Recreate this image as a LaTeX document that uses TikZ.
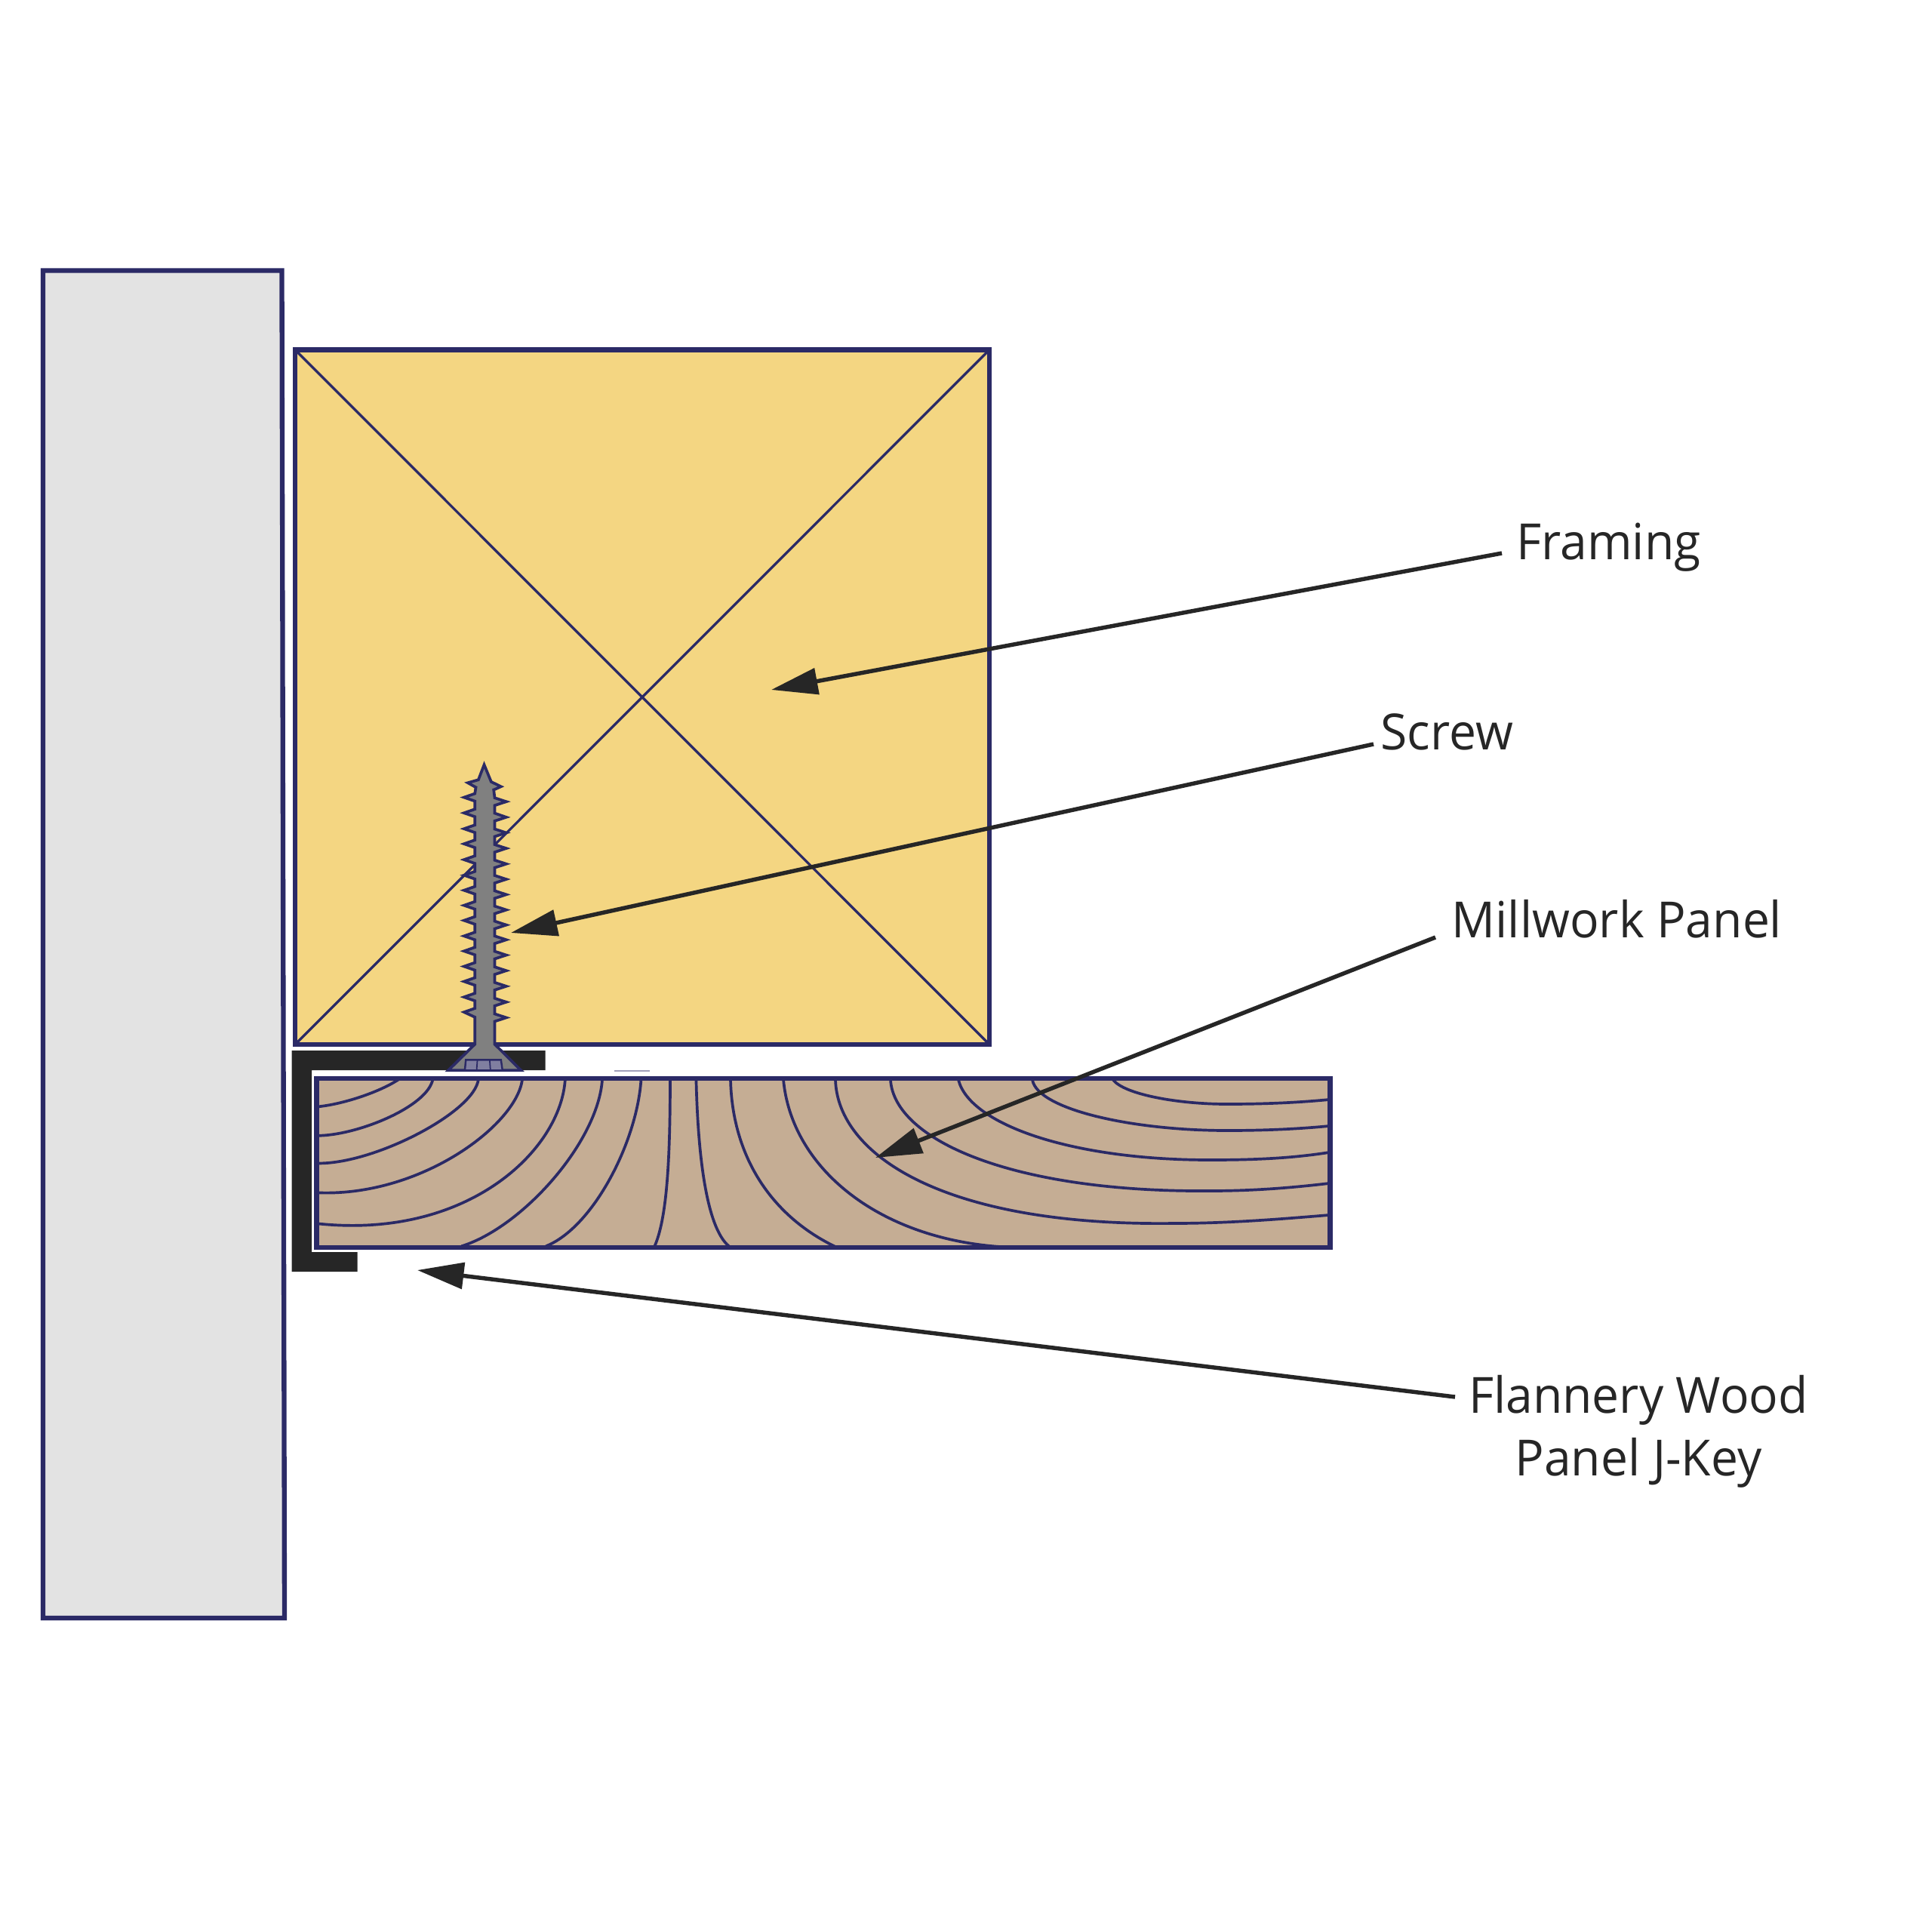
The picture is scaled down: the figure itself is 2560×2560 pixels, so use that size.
\documentclass[tikz,border=0pt]{standalone}
\usepackage{fontspec}
\setmainfont[FakeStretch=0.97]{Open Sans}
\usetikzlibrary{arrows.meta}
\definecolor{navy}{HTML}{2B2A66}
\definecolor{ink}{HTML}{262626}
\definecolor{wallgray}{HTML}{E3E3E3}
\definecolor{framingfill}{HTML}{F4D682}
\definecolor{panelfill}{HTML}{C5AD94}
\definecolor{screwfill}{HTML}{808080}
\definecolor{headfill}{HTML}{807FA0}
\tikzset{
  outline/.style={draw=navy,line width=1.8pt,line join=miter},
  grain/.style={draw=navy,line width=1.05pt},
  leader/.style={draw=ink,line width=1.55pt,-{Triangle[length=17.5pt,width=9.8pt]}},
  callout/.style={font=\fontsize{18.8}{23.6}\selectfont,text=ink,align=center,inner sep=0pt},
}
\begin{document}
\begin{tikzpicture}[x=0.01cm,y=-0.01cm]
\useasboundingbox (0,0) rectangle (2560,2560);
\fill[white] (0,0) rectangle (2560,2560);
% wall
\draw[outline,fill=wallgray] (57,358.5) -- (373.5,358.5) -- (377,2144) -- (57,2144) -- cycle;
% framing
\draw[outline,fill=framingfill] (391,463.5) rectangle (1311,1384);
\draw[draw=navy,line width=0.95pt] (391,463.5) -- (1311,1384);
\draw[draw=navy,line width=0.95pt] (1311,463.5) -- (391,1384);
% J-key
\fill[ink] (386.5,1392) -- (722.7,1392) -- (722.7,1418) -- (413,1418) -- (413,1659) -- (473.5,1659) -- (473.5,1685) -- (386.5,1685) -- cycle;
\draw[draw=navy!45,line width=0.4pt] (814,1419) -- (861,1419);
% panel
\draw[outline,fill=panelfill] (419.5,1429) rectangle (1762.5,1653);
\begin{scope}[shift={(370,1380)},x=0.004464cm,y=-0.003333cm]
\draw[grain] (355,150) .. controls (300,200) and (190,250) .. (112,260);
\draw[grain] (455,150) .. controls (440,260) and (230,375) .. (112,375);
\draw[grain] (590,150) .. controls (580,280) and (280,490) .. (112,485);
\draw[grain] (720,150) .. controls (705,330) and (420,620) .. (112,602);
\draw[grain] (847,150) .. controls (835,430) and (560,790) .. (112,725);
\draw[grain] (957,150) .. controls (945,400) and (720,740) .. (540,815);
\draw[grain] (1072,150) .. controls (1060,400) and (930,740) .. (790,815);
\draw[grain] (1158,150) .. controls (1158,450) and (1150,700) .. (1112,815);
\draw[grain] (1235,150) .. controls (1240,450) and (1265,740) .. (1332,815);
\end{scope}
\draw[grain] (968,1430) .. controls (970,1530) and (1020,1610) .. (1107,1652);
\draw[grain] (1038,1430) .. controls (1048,1545) and (1160,1640) .. (1325,1652);
\draw[grain] (1107,1431) .. controls (1110,1530) and (1250,1625) .. (1555,1621) .. controls (1630,1621) and (1700,1615) .. (1761,1610);
\draw[grain] (1180,1431) .. controls (1185,1510) and (1340,1580) .. (1603,1578) .. controls (1660,1578) and (1710,1574) .. (1761,1568);
\draw[grain] (1270,1431) .. controls (1285,1490) and (1420,1537) .. (1603,1537) .. controls (1660,1537) and (1710,1535) .. (1761,1527);
\draw[grain] (1368,1431) .. controls (1375,1470) and (1500,1498) .. (1626,1498) .. controls (1675,1498) and (1720,1496) .. (1761,1492);
\draw[grain] (1475,1431) .. controls (1490,1450) and (1560,1463) .. (1626,1463) .. controls (1675,1463) and (1720,1461) .. (1761,1457);
% screw
\begin{scope}[shift={(560,980)},x=0.003333cm,y=-0.003333cm]
\draw[draw=navy,line width=1.05pt,fill=screwfill,line join=miter]
 (245,100) -- (273,168) -- (312,187) -- (283,200) -- (287,232)
 -- (333,247) -- (287,262) -- (287,293) -- (333,309) -- (287,324) -- (287,356)
 -- (333,371) -- (287,386) -- (287,418) -- (333,433) -- (287,448) -- (287,480)
 -- (333,495) -- (287,510) -- (287,541) -- (333,556) -- (287,571) -- (287,602)
 -- (333,617) -- (287,632) -- (287,663) -- (333,678) -- (287,693) -- (287,723)
 -- (333,738) -- (287,753) -- (287,782) -- (333,797) -- (287,812) -- (287,843)
 -- (333,858) -- (287,873) -- (287,905) -- (333,920) -- (287,935) -- (287,967)
 -- (333,982) -- (287,997) -- (287,1030) -- (333,1045) -- (287,1060) -- (287,1092)
 -- (333,1107) -- (287,1122) -- (287,1213) -- (392,1317) -- (102,1317) -- (208,1213)
 -- (208,1105) -- (165,1085) -- (208,1070) -- (208,1040)
 -- (165,1025) -- (208,1010) -- (208,978) -- (165,963) -- (208,948) -- (208,918)
 -- (165,903) -- (208,888) -- (208,857) -- (165,842) -- (208,827) -- (208,797)
 -- (165,782) -- (208,767) -- (208,735) -- (165,720) -- (208,705) -- (208,675)
 -- (165,660) -- (208,645) -- (208,615) -- (165,600) -- (208,585) -- (208,555)
 -- (165,540) -- (208,525) -- (208,493) -- (165,478) -- (208,463) -- (208,430)
 -- (165,415) -- (208,400) -- (208,370) -- (165,355) -- (208,340) -- (208,307)
 -- (165,292) -- (208,277) -- (208,245) -- (165,230) -- (208,215) -- (212,190)
 -- (180,172) -- (222,160) -- cycle;
\draw[draw=navy,line width=0.7pt,fill=headfill] (172,1275) -- (312,1275) -- (318,1317) -- (168,1317) -- cycle;
\draw[draw=navy,line width=0.5pt] (218,1275) -- (215,1317) (267,1275) -- (270,1317);
\end{scope}
% labels
\node[callout,anchor=west] (framinglabel) at (2009,725) {Framing};
\node[callout,anchor=west] (screwlabel) at (1829,970) {Screw};
\node[callout,anchor=west] (panellabel) at (1923,1218) {Millwork Panel};
\node[callout,anchor=center] (jkeylabel) at (2171,1897) {Flannery Wood\\Panel J-Key};
% leaders
\coordinate (framingstart) at (1990,733);
\coordinate (framingtip) at (1022,914);
\coordinate (screwstart) at (1820,986);
\coordinate (screwtip) at (677,1236);
\coordinate (panelstart) at (1902,1242);
\coordinate (paneltip) at (1160,1534);
\coordinate (jkeystart) at (1928,1851);
\coordinate (jkeytip) at (553,1683);
\draw[leader] (framingstart) -- (framingtip);
\draw[leader] (screwstart) -- (screwtip);
\draw[leader] (panelstart) -- (paneltip);
\draw[leader] (jkeystart) -- (jkeytip);
\end{tikzpicture}
\end{document}
